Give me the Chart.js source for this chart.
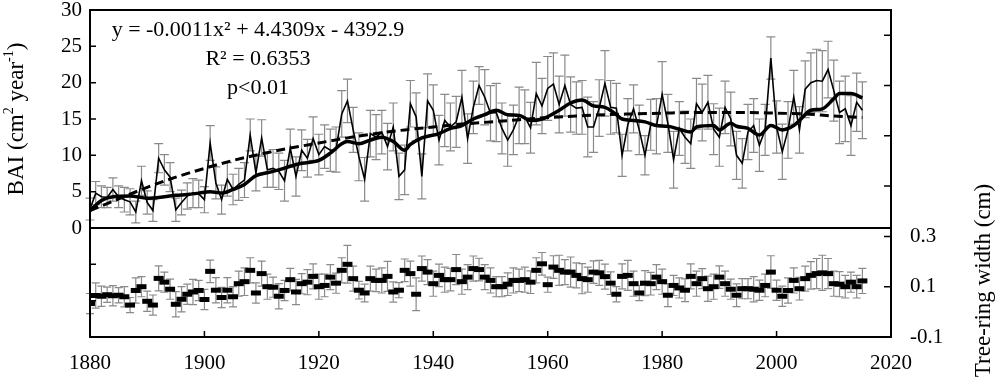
<!DOCTYPE html>
<html>
<head>
<meta charset="utf-8">
<script src="https://cdn.jsdelivr.net/npm/chart.js@4"></script>
<style>
  html, body { margin: 0; padding: 0; background: #fff; }
</style>
</head>
<body>
<canvas id="chart" width="1000" height="386"></canvas>
<script>
// Annual series, one value per year starting at firstYear (1880-2015)
const firstYear = 1880;

// BAI (cm2 / year), mean and error
const bai = [
  2.6, 4.8, 4.3, 4.2, 5.3, 4.3, 3.9, 3.6, 2.2, 6.5,
  3.5, 2.4, 9.6, 8.0, 7.0, 2.5, 3.5, 4.4, 4.8, 4.7,
  3.9, 11.7, 6.2, 3.9, 6.7, 5.3, 6.0, 6.6, 12.8, 7.6,
  12.4, 8.0, 8.2, 7.8, 6.5, 11.0, 7.1, 10.7, 9.6, 12.3,
  10.1, 11.2, 10.7, 10.8, 15.7, 17.5, 13.5, 9.8, 6.7, 13.0,
  12.5, 13.2, 11.2, 13.9, 7.1, 8.0, 17.1, 15.3, 7.1, 17.5,
  16.2, 12.1, 14.8, 13.9, 14.6, 18.0, 12.3, 16.6, 19.6, 18.0,
  15.8, 15.9, 13.7, 12.1, 13.5, 15.5, 15.3, 13.8, 18.5, 16.8,
  19.2, 19.8, 17.0, 19.6, 17.0, 16.5, 16.6, 13.9, 13.9, 16.5,
  19.9, 16.6, 16.5, 10.0, 14.2, 16.4, 13.5, 10.0, 14.2, 14.0,
  18.4, 14.4, 9.4, 13.7, 12.5, 11.6, 17.1, 15.9, 17.3, 13.6,
  12.5, 16.6, 15.0, 10.0, 8.9, 13.2, 14.1, 11.4, 13.5, 23.4,
  13.9, 10.5, 13.5, 18.0, 13.5, 19.1, 20.0, 20.3, 20.2, 21.8,
  18.9, 15.9, 16.4, 14.1, 17.3, 16.2
];
const baiErr = [
  1.5, 1.6, 1.5, 1.4, 1.6, 1.5, 1.7, 1.8, 1.5, 2.0,
  1.6, 1.5, 2.0, 2.1, 2.0, 1.6, 1.7, 1.8, 2.0, 1.9,
  1.8, 2.4, 2.2, 2.0, 2.3, 2.1, 2.2, 2.4, 2.2, 2.5,
  2.5, 2.4, 2.6, 2.5, 2.8, 2.6, 2.7, 2.8, 2.6, 3.0,
  2.8, 3.0, 2.9, 3.1, 3.2, 3.0, 3.1, 3.3, 3.0, 3.2,
  3.1, 3.0, 3.2, 3.3, 3.2, 3.4, 3.2, 3.3, 3.1, 3.7,
  3.5, 3.4, 3.6, 3.3, 3.5, 3.7, 3.4, 3.6, 2.6, 3.8,
  3.8, 4.0, 3.5, 3.6, 3.4, 3.9, 3.7, 3.5, 4.3, 3.8,
  4.4, 4.3, 3.9, 4.2, 3.8, 3.6, 3.7, 4.1, 3.5, 3.9,
  4.5, 3.7, 3.4, 2.9, 3.6, 3.3, 3.4, 2.7, 3.5, 3.8,
  4.5, 4.0, 3.9, 3.7, 3.6, 3.4, 3.5, 3.9, 3.7, 3.5,
  4.0, 3.6, 3.7, 3.3, 3.4, 3.8, 3.7, 3.6, 3.5, 2.9,
  3.6, 3.8, 3.9, 3.7, 3.2, 3.9, 4.1, 4.3, 4.2, 3.9,
  4.2, 4.3, 4.5, 4.1, 4.0, 3.9
];

// Tree-ring width (cm), mean and error
const ringWidth = [
  0.033, 0.065, 0.062, 0.068, 0.064, 0.066, 0.060, 0.027, 0.085, 0.100,
  0.042, 0.027, 0.133, 0.118, 0.090, 0.030, 0.050, 0.070, 0.079, 0.085,
  0.049, 0.161, 0.086, 0.057, 0.086, 0.060, 0.112, 0.120, 0.165, 0.075,
  0.152, 0.100, 0.098, 0.062, 0.085, 0.128, 0.079, 0.112, 0.118, 0.141,
  0.100, 0.105, 0.138, 0.114, 0.165, 0.189, 0.132, 0.086, 0.075, 0.132,
  0.125, 0.125, 0.141, 0.079, 0.086, 0.165, 0.152, 0.070, 0.172, 0.158,
  0.112, 0.145, 0.128, 0.128, 0.168, 0.120, 0.138, 0.172, 0.168, 0.138,
  0.125, 0.100, 0.100, 0.110, 0.125, 0.125, 0.128, 0.118, 0.165, 0.191,
  0.108, 0.178, 0.165, 0.158, 0.158, 0.145, 0.132, 0.128, 0.158, 0.155,
  0.140, 0.114, 0.070, 0.141, 0.145, 0.112, 0.075, 0.114, 0.112, 0.138,
  0.120, 0.066, 0.105, 0.095, 0.086, 0.141, 0.112, 0.132, 0.092, 0.100,
  0.138, 0.112, 0.090, 0.066, 0.092, 0.092, 0.090, 0.086, 0.105, 0.158,
  0.086, 0.062, 0.085, 0.125, 0.092, 0.132, 0.145, 0.152, 0.155, 0.152,
  0.112, 0.110, 0.100, 0.118, 0.100, 0.123
];
const ringErr = [
  0.040, 0.050, 0.040, 0.030, 0.040, 0.030, 0.040, 0.030, 0.050, 0.040,
  0.040, 0.040, 0.050, 0.040, 0.040, 0.050, 0.050, 0.040, 0.050, 0.040,
  0.040, 0.045, 0.050, 0.040, 0.050, 0.040, 0.050, 0.055, 0.050, 0.040,
  0.050, 0.050, 0.040, 0.050, 0.040, 0.045, 0.050, 0.040, 0.050, 0.050,
  0.050, 0.045, 0.050, 0.040, 0.050, 0.075, 0.050, 0.035, 0.035, 0.050,
  0.045, 0.050, 0.060, 0.040, 0.030, 0.045, 0.050, 0.065, 0.050, 0.050,
  0.050, 0.045, 0.050, 0.045, 0.060, 0.050, 0.050, 0.050, 0.045, 0.050,
  0.050, 0.040, 0.040, 0.045, 0.050, 0.045, 0.050, 0.045, 0.050, 0.045,
  0.030, 0.045, 0.060, 0.050, 0.060, 0.050, 0.060, 0.050, 0.045, 0.050,
  0.050, 0.045, 0.030, 0.050, 0.060, 0.050, 0.030, 0.050, 0.045, 0.050,
  0.050, 0.045, 0.040, 0.040, 0.045, 0.050, 0.050, 0.040, 0.050, 0.050,
  0.045, 0.050, 0.040, 0.045, 0.040, 0.040, 0.050, 0.040, 0.045, 0.065,
  0.040, 0.040, 0.050, 0.050, 0.045, 0.050, 0.055, 0.060, 0.070, 0.060,
  0.050, 0.050, 0.045, 0.040, 0.045, 0.050
];

const smoothYears = [1880, 1882, 1884, 1887, 1890, 1893, 1895, 1897, 1899, 1901,
  1903, 1905, 1907, 1909, 1911, 1913, 1915, 1917, 1920, 1922,
  1924, 1925, 1927, 1929, 1931, 1933, 1935, 1936, 1938, 1941,
  1943, 1945, 1947, 1949, 1951, 1953, 1955, 1957, 1959, 1962,
  1964, 1966, 1968, 1970, 1972, 1973, 1975, 1977, 1979, 1981,
  1983, 1985, 1986, 1989, 1990, 1992, 1993, 1995, 1997, 1999,
  2001, 2003, 2004, 2006, 2008, 2010, 2011, 2013, 2015];
const smoothBai = [2.4, 3.8, 4.3, 4.4, 4.1, 4.3, 4.5, 4.6, 4.8, 5.0,
  4.8, 5.3, 6.0, 7.2, 7.6, 8.0, 8.5, 8.9, 9.3, 10.3,
  11.6, 11.9, 11.6, 12.1, 12.5, 11.9, 10.7, 11.5, 12.4, 13.0,
  13.7, 14.1, 15.0, 15.6, 16.2, 15.6, 15.5, 14.8, 15.0, 16.2,
  17.2, 17.6, 16.8, 16.6, 15.6, 15.0, 14.8, 14.6, 14.1, 14.0,
  13.6, 13.2, 13.9, 14.1, 13.5, 14.4, 14.0, 13.7, 12.8, 14.1,
  13.5, 14.1, 14.8, 16.2, 16.4, 17.8, 18.5, 18.5, 17.9];

const trendYears = [1880, 1885, 1890, 1895, 1900, 1905, 1910, 1915, 1920, 1925,
  1930, 1935, 1940, 1945, 1950, 1955, 1960, 1965, 1970, 1975,
  1980, 1985, 1990, 1995, 2000, 2005, 2010, 2015];
const trendBai = [2.4, 4.0, 5.6, 7.0, 8.2, 9.3, 10.2, 11.0, 11.7, 12.4,
  13.0, 13.5, 13.9, 14.3, 14.6, 14.9, 15.2, 15.4, 15.6, 15.7,
  15.8, 15.9, 15.9, 15.9, 15.8, 15.7, 15.4, 15.2];

// Right axis tick marks and which of them carry labels
const rightTicks = [-0.1, 0.1, 0.3, 0.5, 0.7, 0.9, 1.1];
const rightLabelled = [-0.1, 0.1, 0.3];

const equationLines = ['y = -0.0011x\u00B2 + 4.4309x - 4392.9', 'R\u00B2 = 0.6353', 'p<0.01'];

const serif = '"Liberation Serif", "Times New Roman", serif';
Chart.defaults.color = '#000';
Chart.defaults.font.family = serif;

const byYear = vals => vals.map((v, i) => ({ x: firstYear + i, y: v }));
const pairs = (xs, ys) => xs.map((x, i) => ({ x: x, y: ys[i] }));

// keep the plot box where the original has it: no extra room for label overhang
const noOverhang = s => {
  s.paddingTop = 0; s.paddingBottom = 0; s.paddingLeft = 0; s.paddingRight = 0;
};

// error bars, frame, inward ticks and the free text
const decorations = {
  id: 'decorations',
  beforeDatasetsDraw(chart) {
    const { ctx, scales: { x, yL, yR } } = chart;
    ctx.save();
    ctx.strokeStyle = '#8a8a8a';
    ctx.lineWidth = 1.2;
    const bars = (vals, errs, ys, cap) => {
      vals.forEach((v, i) => {
        const px = x.getPixelForValue(firstYear + i);
        const top = ys.getPixelForValue(v + errs[i]);
        const bot = ys.getPixelForValue(v - errs[i]);
        ctx.beginPath();
        ctx.moveTo(px, top); ctx.lineTo(px, bot);
        ctx.moveTo(px - cap, top); ctx.lineTo(px + cap, top);
        ctx.moveTo(px - cap, bot); ctx.lineTo(px + cap, bot);
        ctx.stroke();
      });
    };
    bars(bai, baiErr, yL, 4.5);
    bars(ringWidth, ringErr, yR, 4);
    ctx.restore();
  },
  afterDraw(chart) {
    const { ctx, chartArea: a, scales: { x, yL, yR } } = chart;
    ctx.save();
    ctx.strokeStyle = '#000';
    ctx.lineWidth = 2;
    ctx.strokeRect(a.left, a.top, a.right - a.left, a.bottom - a.top);
    const zero = yL.getPixelForValue(0);
    ctx.beginPath();
    ctx.moveTo(a.left, zero); ctx.lineTo(a.right, zero);
    ctx.stroke();

    ctx.lineWidth = 1.5;
    ctx.beginPath();
    x.ticks.forEach(t => {
      const p = x.getPixelForValue(t.value);
      if (p <= a.left + 1 || p >= a.right - 1) return;
      ctx.moveTo(p, a.bottom); ctx.lineTo(p, a.bottom - 6);
    });
    yL.ticks.forEach(t => {
      const p = yL.getPixelForValue(t.value);
      if (p <= a.top + 1 || p >= a.bottom - 1) return;
      ctx.moveTo(a.left, p); ctx.lineTo(a.left + 6, p);
    });
    yR.ticks.forEach(t => {
      const p = yR.getPixelForValue(t.value);
      if (p <= a.top + 1 || p >= a.bottom - 1) return;
      ctx.moveTo(a.right, p); ctx.lineTo(a.right - 7, p);
    });
    ctx.stroke();

    // equation block
    ctx.fillStyle = '#000';
    ctx.textAlign = 'center';
    ctx.textBaseline = 'alphabetic';
    ctx.font = '22px ' + serif;
    ctx.fillText(equationLines[0], 258, 36);
    ctx.fillText(equationLines[1], 258, 65);
    ctx.fillText(equationLines[2], 258, 94);

    // left title with superscripts
    const parts = [['BAI (cm', false], ['2', true], [' year', false], ['-1', true], [')', false]];
    const big = '23px ' + serif, small = '14px ' + serif;
    let w = 0;
    parts.forEach(p => { ctx.font = p[1] ? small : big; w += ctx.measureText(p[0]).width; });
    ctx.save();
    ctx.translate(17, (a.top + zero) / 2);
    ctx.rotate(-Math.PI / 2);
    ctx.textAlign = 'left';
    ctx.textBaseline = 'middle';
    let cx = -w / 2;
    parts.forEach(p => {
      ctx.font = p[1] ? small : big;
      ctx.fillText(p[0], cx, p[1] ? -8 : 0);
      cx += ctx.measureText(p[0]).width;
    });
    ctx.restore();

    // right title
    ctx.save();
    ctx.translate(984, (zero + a.bottom) / 2 - 2);
    ctx.rotate(-Math.PI / 2);
    ctx.textAlign = 'center';
    ctx.textBaseline = 'middle';
    ctx.font = '23px ' + serif;
    ctx.fillText('Tree-ring width (cm)', 0, 0);
    ctx.restore();
    ctx.restore();
  }
};

new Chart(document.getElementById('chart'), {
  type: 'line',
  data: {
    datasets: [
      {
        data: byYear(bai), yAxisID: 'yL',
        borderColor: '#000', borderWidth: 1.6, pointRadius: 0, tension: 0
      },
      {
        data: pairs(smoothYears, smoothBai), yAxisID: 'yL',
        borderColor: '#000', borderWidth: 3.5, pointRadius: 0,
        cubicInterpolationMode: 'monotone'
      },
      {
        data: pairs(trendYears, trendBai), yAxisID: 'yL',
        borderColor: '#000', borderWidth: 3, borderDash: [9, 5], pointRadius: 0,
        cubicInterpolationMode: 'monotone'
      },
      {
        data: byYear(ringWidth), yAxisID: 'yR', showLine: false,
        pointStyle: 'line', pointRadius: 5, pointBorderWidth: 5,
        pointBorderColor: '#000', pointBackgroundColor: '#000'
      }
    ]
  },
  options: {
    responsive: false,
    animation: false,
    devicePixelRatio: 1,
    layout: { padding: { top: 8, left: 0, right: 0, bottom: 0 } },
    plugins: { legend: { display: false }, tooltip: { enabled: false } },
    scales: {
      x: {
        type: 'linear', min: 1880, max: 2020,
        ticks: { stepSize: 20, padding: 14, font: { size: 21 }, maxRotation: 0, callback: v => String(v) },
        grid: { display: false, drawTicks: false },
        border: { display: false },
        afterFit: s => { noOverhang(s); s.height = 49; }
      },
      yL: {
        position: 'left', min: -15, max: 30,
        ticks: { stepSize: 5, padding: 8, font: { size: 21 }, callback: v => (v >= 0 ? String(v) : '') },
        grid: { display: false, drawTicks: false },
        border: { display: false },
        afterFit: s => { noOverhang(s); s.width = 90; }
      },
      yR: {
        position: 'right', min: -0.1, max: 1.2,
        afterBuildTicks: s => { s.ticks = rightTicks.map(v => ({ value: v })); },
        ticks: {
          padding: 19, font: { size: 21 },
          callback: v => (rightLabelled.some(r => Math.abs(r - v) < 1e-6) ? v.toFixed(1) : '')
        },
        grid: { display: false, drawTicks: false },
        border: { display: false },
        afterFit: s => { noOverhang(s); s.width = 109; }
      }
    }
  },
  plugins: [decorations]
});
</script>
</body>
</html>
